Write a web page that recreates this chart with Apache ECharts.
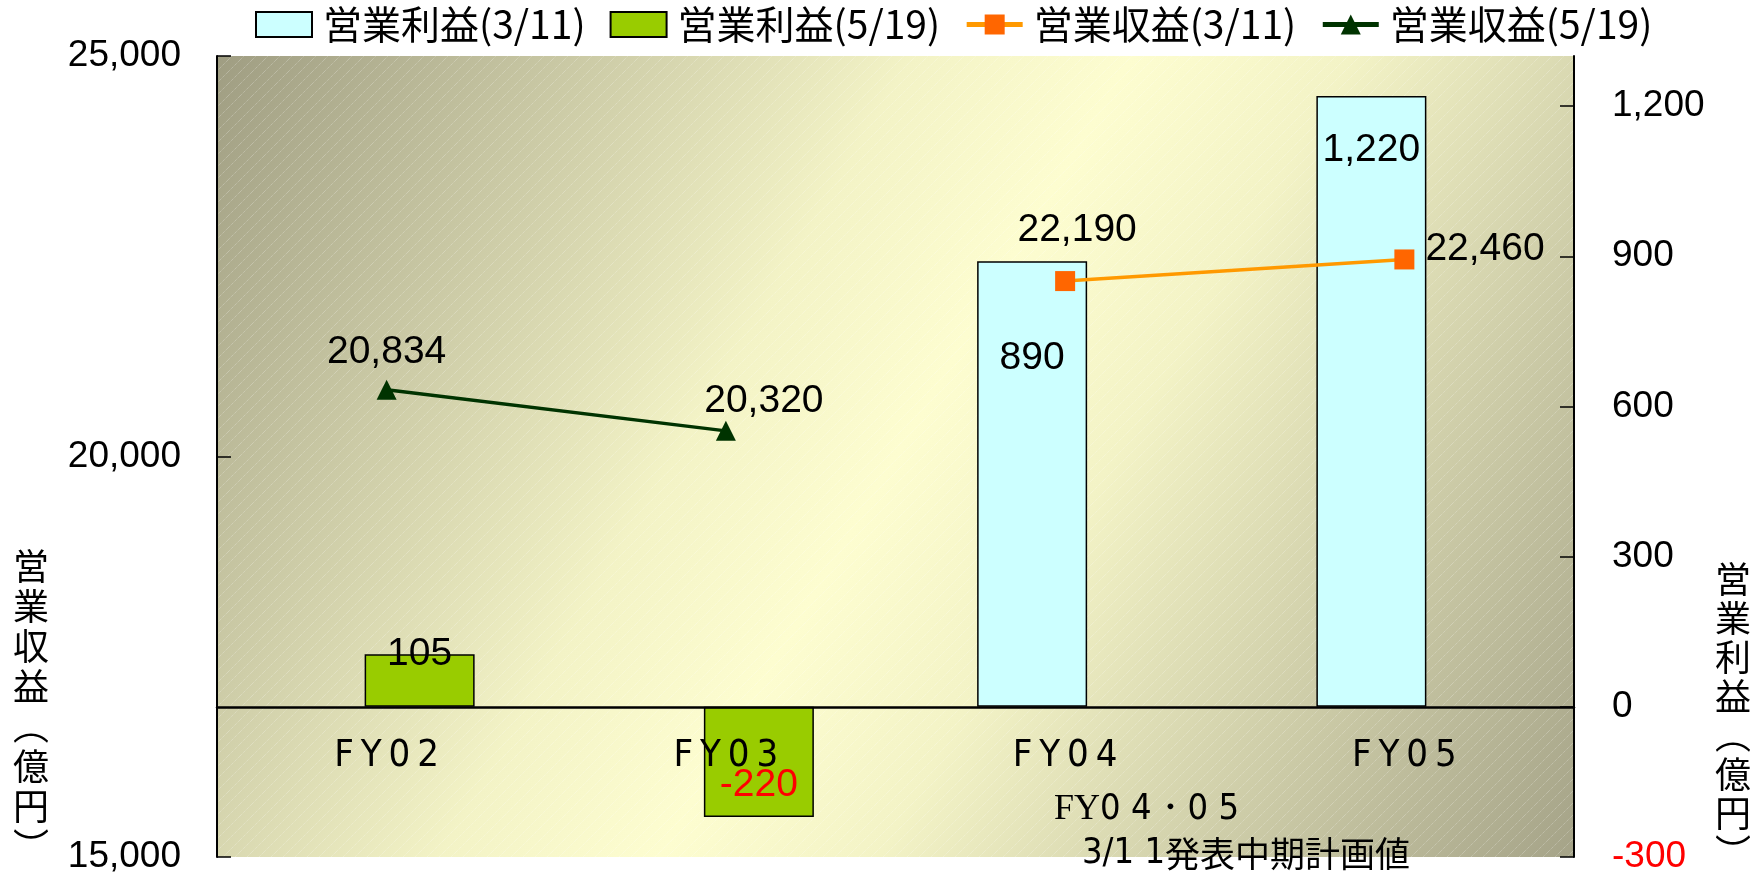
<!DOCTYPE html>
<html>
<head>
<meta charset="utf-8">
<script src="https://cdn.jsdelivr.net/npm/echarts@6/dist/echarts.min.js"></script>
<style>
html, body { margin: 0; padding: 0; background: #fff; }
#chart { width: 1759px; height: 879px; }
</style>
</head>
<body>
<div id="chart"></div>
<script>
// 年度
const categories = ['FY02', 'FY03', 'FY04', 'FY05']
// 営業利益（億円）右軸
const profitPlan = [null, null, 890, 1220] // 3/11
const profitRevised = [105, -220, null, null] // 5/19
// 営業収益（億円）左軸
const revenuePlan = [null, null, 22190, 22460] // 3/11
const revenueRevised = [20834, 20320, null, null] // 5/19
// 右軸の目盛
const rightTicks = [-300, 0, 300, 600, 900, 1200]
const rightMin = -300
const rightMax = 1300

const fmt = (v) => Number(v).toLocaleString('en-US')
const numFont = 'Liberation Sans, Arial, sans-serif'
const jpFont = 'Noto Sans CJK JP, sans-serif'
const narrowFont = 'Liberation Sans Narrow, DejaVu Sans Condensed, Liberation Sans, sans-serif'

// 背景の斜線パターン
const makeStripes = () => {
  const c = document.createElement('canvas')
  c.width = 12
  c.height = 12
  const ctx = c.getContext('2d')
  ctx.strokeStyle = 'rgba(255,255,255,0.35)'
  ctx.lineWidth = 1
  ctx.setLineDash([1, 1])
  ctx.beginPath()
  ctx.moveTo(0, 12)
  ctx.lineTo(12, 0)
  ctx.stroke()
  return c
}

const grid = { left: 217, right: 185, top: 56, bottom: 22 }
const W = 1759
const H = 879
const gridH = H - grid.top - grid.bottom
// カテゴリ軸を右軸の0の位置に置く（v6ではonZeroでラベルが付いてこないため）
const zeroOffset = -gridH * (0 - rightMin) / (rightMax - rightMin)

const barLabel = (i, v) => {
  // ラベル位置は元図に合わせて個別に調整
  const base = { show: true, formatter: fmt(v), fontFamily: numFont, fontSize: 39, color: '#000' }
  if (v < 0) return Object.assign(base, { position: 'insideBottom', distance: 12, color: '#ff0000' })
  if (v < 200) return Object.assign(base, { position: 'top', distance: -20 })
  if (v < 1000) return Object.assign(base, { position: 'insideTop', distance: 77 })
  return Object.assign(base, { position: 'insideTop', distance: 35 })
}

const lineLabelOpts = [
  { position: 'top', distance: 8, offset: [0, 0] },
  { position: 'top', distance: 0, offset: [38, 0] },
  { position: 'top', distance: 21, offset: [12, 0] },
  { position: 'right', distance: 2, offset: [9, -10] }
]

const barData = (arr) =>
  arr.map((v, i) => (v == null ? null : { value: v, label: barLabel(i, v) }))

const lineData = (arr) =>
  arr.map((v, i) =>
    v == null
      ? null
      : {
          value: v,
          label: Object.assign(
            { show: true, formatter: fmt(v), fontFamily: numFont, fontSize: 39, color: '#000' },
            lineLabelOpts[i]
          )
        }
  )

const vertical = (s) => s.split('').join('\n')

const myEchart = echarts.init(document.getElementById('chart'))

const option = {
  animation: false,
  backgroundColor: '#fff',
  grid: {
    ...grid,
    outerBoundsMode: 'none',
    containLabel: false,
    show: true,
    borderWidth: 0,
    backgroundColor: new echarts.graphic.LinearGradient(0, 0, 1, 1, [
      { offset: 0, color: '#9f9d82' },
      { offset: 0.38, color: '#f3f3c6' },
      { offset: 0.5, color: '#fdfdd0' },
      { offset: 0.62, color: '#f3f3c6' },
      { offset: 1, color: '#a5a388' }
    ])
  },
  legend: {
    left: 250,
    top: 0,
    itemWidth: 56,
    itemHeight: 25,
    itemGap: 24,
    textStyle: { fontFamily: jpFont, fontSize: 39, color: '#000', padding: [0, 0, 0, 6] },
    data: [
      { name: '営業利益(3/11)', icon: 'rect' },
      { name: '営業利益(5/19)', icon: 'rect' },
      { name: '営業収益(3/11)', lineStyle: { width: 5 } },
      { name: '営業収益(5/19)', lineStyle: { width: 5 } }
    ]
  },
  graphic: [
    {
      type: 'rect',
      silent: true,
      z: 1,
      shape: { x: grid.left, y: grid.top, width: W - grid.left - grid.right, height: gridH },
      style: { fill: { image: makeStripes(), repeat: 'repeat' } }
    },
    {
      type: 'text',
      left: 13,
      top: 546,
      style: { text: vertical('営業収益︵億円︶'), fontFamily: jpFont, fontSize: 36, lineHeight: 40, fill: '#000' }
    },
    {
      type: 'text',
      left: 1715,
      top: 560,
      style: { text: vertical('営業利益︵億円︶'), fontFamily: jpFont, fontSize: 36, lineHeight: 39, fill: '#000' }
    },
    {
      type: 'text',
      left: 1054,
      top: 792,
      z: 10,
      style: {
        text: '{a|FY}{b|0 4・0 5}',
        rich: {
          a: { fontFamily: 'Liberation Serif, serif', fontSize: 36, fill: '#000' },
          b: { fontFamily: narrowFont, fontSize: 36, fill: '#000' }
        }
      }
    },
    {
      type: 'text',
      left: 1082,
      top: 836,
      z: 10,
      style: {
        text: '{b|3/1 1}{c|発表中期計画値}',
        rich: {
          b: { fontFamily: narrowFont, fontSize: 36, fill: '#000' },
          c: { fontFamily: jpFont, fontSize: 35, fill: '#000' }
        }
      }
    }
  ],
  xAxis: {
    type: 'category',
    data: categories,
    position: 'bottom',
    offset: zeroOffset,
    z: 10,
    axisLine: { onZero: false, lineStyle: { color: '#000', width: 2.5 } },
    axisTick: { inside: true, length: 14, lineStyle: { color: '#000', width: 1.5 } },
    axisLabel: {
      margin: 30,
      fontFamily: narrowFont,
      fontSize: 38,
      color: '#000',
      formatter: (v) => v.split('').join('\u2009')
    },
    splitLine: { show: false }
  },
  yAxis: [
    {
      type: 'value',
      position: 'left',
      min: 15000,
      max: 25000,
      interval: 5000,
      z: 3,
      axisLine: { show: true, lineStyle: { color: '#000', width: 2 } },
      axisTick: { show: true, inside: true, length: 14, lineStyle: { color: '#000', width: 1.5 } },
      axisLabel: { margin: 36, fontFamily: numFont, fontSize: 37, color: '#000', formatter: fmt },
      splitLine: { show: false }
    },
    {
      type: 'value',
      position: 'right',
      min: rightMin,
      max: rightMax,
      interval: 300,
      z: 3,
      axisLine: { show: true, lineStyle: { color: '#000', width: 2 } },
      axisTick: { show: true, inside: true, length: 14, customValues: rightTicks, lineStyle: { color: '#000', width: 1.5 } },
      axisLabel: {
        margin: 38,
        customValues: rightTicks,
        fontFamily: numFont,
        fontSize: 37,
        color: (v) => (Number(v) < 0 ? '#ff0000' : '#000'),
        formatter: fmt
      },
      splitLine: { show: false }
    }
  ],
  series: [
    {
      name: '営業利益(3/11)',
      type: 'bar',
      yAxisIndex: 1,
      barWidth: 110,
      barGap: '-40%',
      data: barData(profitPlan),
      itemStyle: { color: '#ccffff', borderColor: '#000', borderWidth: 1.5 }
    },
    {
      name: '営業利益(5/19)',
      type: 'bar',
      yAxisIndex: 1,
      barWidth: 110,
      barGap: '-40%',
      data: barData(profitRevised),
      itemStyle: { color: '#99cc00', borderColor: '#000', borderWidth: 1.5 }
    },
    {
      name: '営業収益(3/11)',
      type: 'line',
      yAxisIndex: 0,
      data: lineData(revenuePlan),
      symbol: 'rect',
      symbolSize: 20,
      z: 5,
      lineStyle: { color: '#ff9900', width: 3.5 },
      itemStyle: { color: '#ff6600' }
    },
    {
      name: '営業収益(5/19)',
      type: 'line',
      yAxisIndex: 0,
      data: lineData(revenueRevised),
      symbol: 'triangle',
      symbolSize: 20,
      z: 5,
      lineStyle: { color: '#003300', width: 3.5 },
      itemStyle: { color: '#003300' }
    }
  ]
}

myEchart.setOption(option)
window.addEventListener('resize', () => myEchart.resize())
</script>
</body>
</html>
